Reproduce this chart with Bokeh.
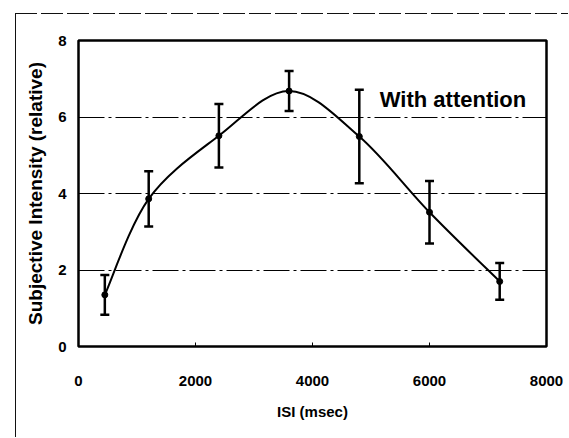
from bokeh.plotting import figure
from bokeh.models import Range1d, FixedTicker, Whisker, TeeHead, ColumnDataSource, Label
from bokeh.embed import file_html
from bokeh.resources import INLINE

# ---- data ----
isi_ms = [450, 1200, 2400, 3600, 4800, 6000, 7200]
intensity = [1.35, 3.86, 5.51, 6.68, 5.49, 3.51, 1.70]
error = [0.52, 0.72, 0.83, 0.52, 1.22, 0.82, 0.48]
x_ticks = [0, 2000, 4000, 6000, 8000]
y_ticks = [0, 2, 4, 6, 8]
grid_levels = [2, 4, 6]
series_label = "With attention"

FONT = "'Liberation Sans', Arial, sans-serif"

p = figure(width=568, height=437, output_backend="svg", toolbar_location=None,
           x_range=Range1d(0, 8000), y_range=Range1d(0, 8),
           min_border_left=78, min_border_right=22, min_border_top=40, min_border_bottom=91)

p.border_fill_color = None
p.background_fill_color = "white"
p.outline_line_color = "black"
p.outline_line_width = 2.5
p.styles = {
    "background-image": "linear-gradient(#111,#111), repeating-linear-gradient(to right, #111 0 22px, transparent 22px 26px)",
    "background-size": "1px 100%, 100% 1px",
    "background-position": "15px 13px, 15px 13px",
    "background-repeat": "no-repeat",
}

# grid
p.xgrid.grid_line_color = None
p.ygrid.ticker = FixedTicker(ticks=grid_levels)
p.ygrid.grid_line_color = "black"
p.ygrid.grid_line_width = 1
p.ygrid.grid_line_dash = "26 4 3 4"

# axes
for ax in (p.xaxis[0], p.yaxis[0]):
    ax.axis_line_color = None
    ax.major_tick_line_color = "black"
    ax.major_tick_in = 4
    ax.major_tick_out = 0
    ax.minor_tick_line_color = None
    ax.major_label_text_font = FONT
    ax.major_label_text_font_style = "bold"
    ax.major_label_text_font_size = "15px"
    ax.major_label_text_color = "black"
    ax.axis_label_text_font = FONT
    ax.axis_label_text_font_style = "bold"
    ax.axis_label_text_color = "black"

p.xaxis.ticker = FixedTicker(ticks=x_ticks)
p.yaxis.ticker = FixedTicker(ticks=y_ticks)
p.xaxis.major_label_standoff = 29
p.xaxis.axis_label = "ISI (msec)"
p.xaxis.axis_label_text_font_size = "15px"
p.xaxis.axis_label_standoff = 14
p.yaxis.major_label_standoff = 12
p.yaxis.axis_label = "Subjective Intensity (relative)"
p.yaxis.axis_label_text_font_size = "19px"
p.yaxis.axis_label_standoff = 9

# smooth curve (Catmull-Rom as Bezier segments, computed from the data)
n = len(isi_ms)
def pt(i):
    i = max(0, min(n - 1, i))
    return isi_ms[i], intensity[i]
x0, y0, x1, y1, cx0, cy0, cx1, cy1 = [], [], [], [], [], [], [], []
for i in range(n - 1):
    (ax_, ay_), (bx_, by_) = pt(i), pt(i + 1)
    (px_, py_), (qx_, qy_) = pt(i - 1), pt(i + 2)
    x0.append(ax_); y0.append(ay_); x1.append(bx_); y1.append(by_)
    cx0.append(ax_ + (bx_ - px_) / 6); cy0.append(ay_ + (by_ - py_) / 6)
    cx1.append(bx_ - (qx_ - ax_) / 6); cy1.append(by_ - (qy_ - ay_) / 6)
p.bezier(x0=x0, y0=y0, x1=x1, y1=y1, cx0=cx0, cy0=cy0, cx1=cx1, cy1=cy1,
         line_color="black", line_width=2)

# error bars
src = ColumnDataSource(dict(
    x=isi_ms, y=intensity,
    upper=[v + e for v, e in zip(intensity, error)],
    lower=[v - e for v, e in zip(intensity, error)],
))
wh = Whisker(base="x", upper="upper", lower="lower", source=src,
             line_color="black", line_width=2.5,
             upper_head=TeeHead(size=9, line_width=2.5, line_color="black"),
             lower_head=TeeHead(size=9, line_width=2.5, line_color="black"))
p.add_layout(wh)
p.scatter("x", "y", source=src, size=6, color="black")

p.add_layout(Label(x=5150, y=6.47, text=series_label, text_font=FONT,
                   text_font_style="bold", text_font_size="22px", text_color="black",
                   text_baseline="alphabetic"))

open("out.html", "w").write(file_html(p, INLINE))
